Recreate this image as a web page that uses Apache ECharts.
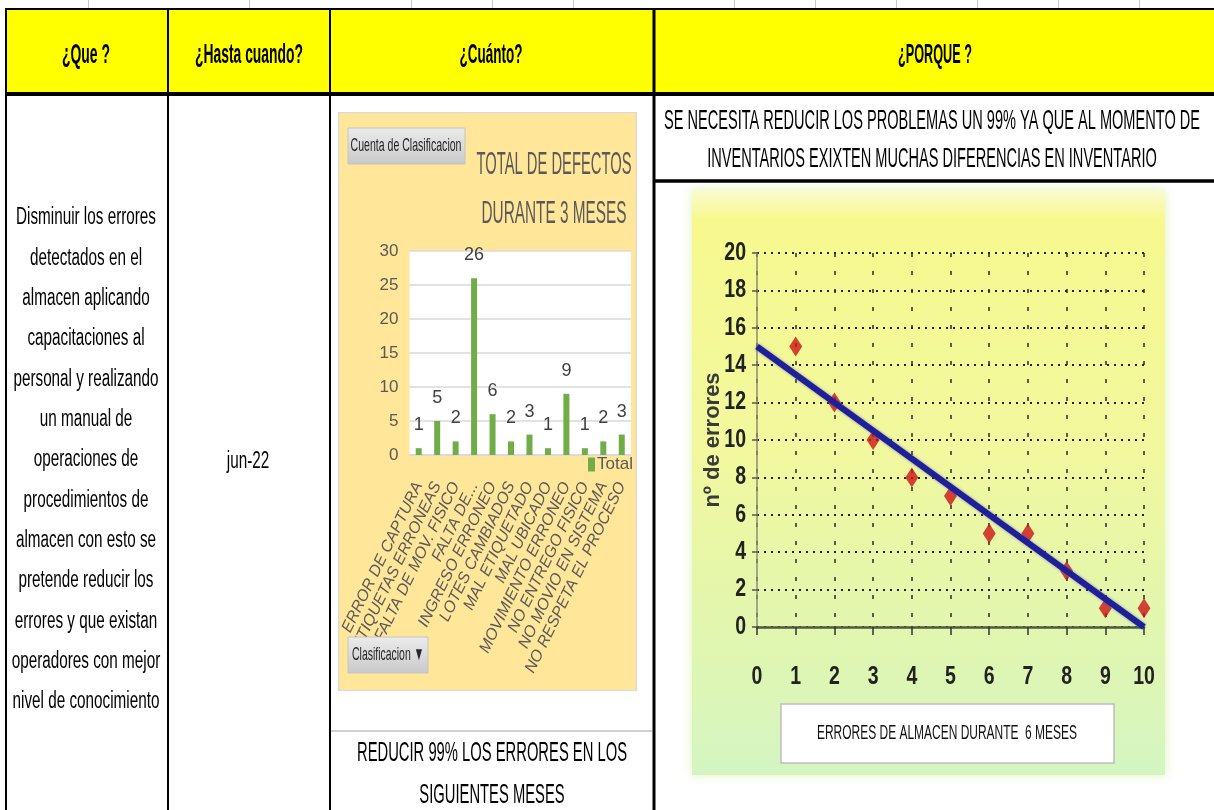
<!DOCTYPE html>
<html>
<head>
<meta charset="utf-8">
<script src="https://cdn.jsdelivr.net/npm/echarts@6/dist/echarts.min.js"></script>
<style>
  html, body { margin: 0; padding: 0; background: #fff; }
  #page { position: absolute; left: 0; top: 0; width: 1214px; height: 810px; }
  #bars { position: absolute; left: 338px; top: 112px; width: 299px; height: 579px; }
</style>
</head>
<body>
<div id="page"></div>
<div id="bars"></div>
<script>
// ---- table content ----
const headerTitles = ['¿Que ?', '¿Hasta cuando?', '¿Cuánto?', '¿PORQUE ?'];
const queLines = [
  'Disminuir los errores', 'detectados en el', 'almacen aplicando', 'capacitaciones al',
  'personal y realizando', 'un manual de', 'operaciones de', 'procedimientos de',
  'almacen con esto se', 'pretende reducir los', 'errores y que existan',
  'operadores con mejor', 'nivel de conocimiento'
];
const hastaText = 'jun-22';
const cuantoLines = ['REDUCIR 99% LOS ERRORES EN LOS', 'SIGUIENTES MESES'];
const porqueLines = [
  'SE NECESITA REDUCIR LOS PROBLEMAS UN 99% YA QUE AL MOMENTO DE',
  'INVENTARIOS EXIXTEN MUCHAS DIFERENCIAS EN INVENTARIO'
];

// ---- defects per classification (bar chart) ----
const defectCategories = [
  'ERROR DE CAPTURA', 'ETIQUETAS ERRONEAS', 'FALTA DE MOV. FISICO', 'FALTA DE...',
  'INGRESO ERRONEO', 'LOTES CAMBIADOS', 'MAL ETIQUETADO', 'MAL UBICADO',
  'MOVIMIENTO ERRONEO', 'NO ENTREGO FISICO', 'NO MOVIO EN SISTEMA', 'NO RESPETA EL PROCESO'
];
const defectCounts = [1, 5, 2, 26, 6, 2, 3, 1, 9, 1, 2, 3];
const defectTitle = ['TOTAL DE DEFECTOS', 'DURANTE 3 MESES'];

// ---- warehouse errors per month (scatter + trend) ----
const monthX = [1, 2, 3, 4, 5, 6, 7, 8, 9, 10];
const errorsY = [15, 12, 10, 8, 7, 5, 5, 3, 1, 1];
const trendX = [0, 10];
const trendY = [15, 0];
const xTicks = [0, 1, 2, 3, 4, 5, 6, 7, 8, 9, 10];
const yTicks = [0, 2, 4, 6, 8, 10, 12, 14, 16, 18, 20];
const errorsCaption = 'ERRORES DE ALMACEN DURANTE  6 MESES';

const SANS = "'Liberation Sans', 'DejaVu Sans', sans-serif";

// text squeezed horizontally (condensed look)
const mctx = document.createElement('canvas').getContext('2d');
function fitText(str, cx, cy, size, width, opt) {
  opt = opt || {};
  const weight = opt.weight || 'normal';
  const family = opt.family || SANS;
  mctx.font = weight + ' ' + size + 'px ' + family;
  const w = mctx.measureText(str).width;
  const sx = opt.scale || (width / w);
  const align = opt.align || 'center';
  return {
    type: 'text', x: cx, y: cy, scaleX: sx, z: opt.z || 20, silent: true,
    style: {
      text: str, x: 0, y: 0,
      align: align, verticalAlign: 'middle',
      textAlign: align, textVerticalAlign: 'middle',
      fontSize: size, fontWeight: weight, fontFamily: family,
      fill: opt.color || '#000'
    }
  };
}
function scaleFor(str, size, width, weight) {
  mctx.font = (weight || 'normal') + ' ' + size + 'px ' + SANS;
  return width / mctx.measureText(str).width;
}
function hLine(x1, x2, y, w, color, z) {
  return { type: 'line', z: z || 30, silent: true, shape: { x1: x1, y1: y, x2: x2, y2: y }, style: { stroke: color || '#000', lineWidth: w } };
}
function vLine(x, y1, y2, w, color, z) {
  return { type: 'line', z: z || 30, silent: true, shape: { x1: x, y1: y1, x2: x, y2: y2 }, style: { stroke: color || '#000', lineWidth: w } };
}

// ================= page: table + errors chart =================
const page = echarts.init(document.getElementById('page'), null, { renderer: 'canvas' });
const g = [];

// faint sheet gridline stubs above the table
[88, 249, 411, 492, 573, 734, 815, 896, 977, 1058, 1139].forEach(function (x) {
  g.push(vLine(x + 0.5, 0, 9, 1, '#c8c8c8', 5));
});
// header band and borders
g.push({ type: 'rect', z: 1, silent: true, shape: { x: 6, y: 9, width: 1208, height: 84 }, style: { fill: '#FFFF00' } });
g.push(hLine(5, 1214, 9, 2));
g.push(hLine(5, 1214, 94, 4));
g.push(vLine(6, 8, 810, 2));
g.push(vLine(168, 8, 810, 2));
g.push(vLine(330, 8, 810, 2));
g.push(vLine(654, 8, 810, 3));
g.push(hLine(653, 1214, 181, 3.5));
g.push(hLine(331, 652, 731, 2, '#d0d0d0'));

const headerCx = [86, 249, 491, 935];
const headerW = [48, 108, 63, 74];
headerTitles.forEach(function (t, i) {
  g.push(fitText(t, headerCx[i], 56, 27, headerW[i], { weight: 'bold' }));
});

const queScale = scaleFor(queLines[0], 23, 140);
queLines.forEach(function (t, i) {
  g.push(fitText(t, 86, 218 + i * 40.33, 23, 0, { scale: queScale }));
});
g.push(fitText(hastaText, 248, 462, 23, 0, { scale: queScale }));

const cuantoScale = scaleFor(cuantoLines[0], 28, 270);
cuantoLines.forEach(function (t, i) {
  g.push(fitText(t, 492, 753 + i * 42, 28, 0, { scale: cuantoScale }));
});
const porqueScale = scaleFor(porqueLines[0], 28, 536);
porqueLines.forEach(function (t, i) {
  g.push(fitText(t, 932, 121 + i * 38, 28, 0, { scale: porqueScale }));
});

// errors chart backdrop
g.push({
  type: 'rect', z: 0, silent: true,
  shape: { x: 692, y: 190, width: 473, height: 585 },
  style: {
    fill: new echarts.graphic.LinearGradient(0, 0, 0, 1, [
      { offset: 0, color: '#FAFAD0' },
      { offset: 0.05, color: '#F7F98E' },
      { offset: 0.45, color: '#F1F89E' },
      { offset: 0.8, color: '#DFF6B2' },
      { offset: 1, color: '#D4F5C2' }
    ]),
    shadowBlur: 10, shadowColor: 'rgba(215,240,170,0.8)'
  }
});
g.push({ type: 'rect', z: 20, silent: true, shape: { x: 781, y: 704, width: 333, height: 59 }, style: { fill: '#fff', stroke: '#bdbdbd', lineWidth: 1.5 } });
g.push(fitText(errorsCaption, 947, 733, 20, 260, { color: '#111' }));

page.setOption({
  backgroundColor: '#fff',
  animation: false,
  graphic: { elements: g },
  grid: { left: 757, top: 253, width: 387, height: 374 },
  xAxis: {
    type: 'value', min: 0, max: 10, interval: 1,
    axisLine: { show: true, onZero: false, lineStyle: { color: '#4f5c3e', width: 2.5 } },
    axisTick: { show: true, length: 8, lineStyle: { color: '#333', width: 1.5 } },
    axisLabel: { show: false },
    splitLine: { show: true, lineStyle: { type: [4, 14], color: '#2a2a2a', width: 1.5 } }
  },
  yAxis: {
    type: 'value', min: 0, max: 20, interval: 2,
    name: 'nº de errores', nameLocation: 'middle', nameRotate: 90, nameGap: 33,
    nameMoveOverlap: false,
    nameTextStyle: { fontSize: 22, fontWeight: 'bold', color: '#3a3a3a', fontFamily: SANS },
    axisLine: { show: true, lineStyle: { color: '#8c8c76', width: 1.5 } },
    axisTick: { show: true, length: 5, lineStyle: { color: '#555', width: 1.5 } },
    axisLabel: { show: false },
    splitLine: { show: true, lineStyle: { type: [2, 5], color: '#222', width: 2 } }
  },
  series: [
    {
      type: 'scatter', name: 'errores',
      data: monthX.map(function (x, i) { return [x, errorsY[i]]; }),
      symbol: 'diamond', symbolSize: [13, 20],
      itemStyle: { color: '#CC1414' }, z: 3
    },
    {
      type: 'line', name: 'tendencia',
      data: trendX.map(function (x, i) { return [x, trendY[i]]; }),
      symbol: 'none',
      lineStyle: { color: '#1F1F96', width: 6, shadowBlur: 3, shadowColor: 'rgba(60,60,220,0.6)' },
      z: 4
    }
  ]
});

// condensed tick labels placed through the axis scales
const tickScale = 0.78;
xTicks.forEach(function (v) {
  const p = page.convertToPixel({ gridIndex: 0 }, [v, 0]);
  g.push(fitText(String(v), p[0], p[1] + 50, 25, 0, { scale: tickScale, color: '#222', weight: 'bold' }));
});
yTicks.forEach(function (v) {
  const p = page.convertToPixel({ gridIndex: 0 }, [0, v]);
  g.push(fitText(String(v), p[0] - 11, p[1], 25, 0, { scale: tickScale, color: '#222', weight: 'bold', align: 'right' }));
});
page.setOption({ graphic: { elements: g } });

// ================= defects bar chart =================
const bars = echarts.init(document.getElementById('bars'), null, { renderer: 'canvas' });
const bg = [];
bg.push({ type: 'rect', z: 0, silent: true, shape: { x: 0.5, y: 0.5, width: 298, height: 578 }, style: { fill: 'none', stroke: '#d9d9d9', lineWidth: 1.5 } });
function button(x, y, w, h) {
  return {
    type: 'rect', z: 10, silent: true, shape: { x: x, y: y, width: w, height: h },
    style: {
      fill: new echarts.graphic.LinearGradient(0, 0, 0, 1, [
        { offset: 0, color: '#ececec' }, { offset: 1, color: '#c9c9c9' }
      ]),
      stroke: '#c4c4c4', lineWidth: 1
    }
  };
}
bg.push(button(10, 16, 117, 36));
bg.push(fitText('Cuenta de Clasificacion', 68, 34, 19, 111, { color: '#262626' }));
bg.push(button(10, 525, 80, 36));
bg.push(fitText('Clasificacion ▼', 50, 543, 19, 72, { color: '#262626' }));
bg.push(fitText(defectTitle[0], 216, 53, 32, 155, { color: '#595959' }));
bg.push(fitText(defectTitle[1], 216, 102, 32, 145, { color: '#595959' }));

bars.setOption({
  backgroundColor: '#FFE699',
  animation: false,
  graphic: { elements: bg },
  legend: {
    data: ['Total'], left: 250, top: 344, padding: 0, icon: 'rect', itemWidth: 7, itemHeight: 14,
    textStyle: { fontSize: 17, color: '#595959', fontFamily: SANS, padding: [0, 0, 0, -3] }
  },
  grid: { left: 65, top: 139, width: 228, height: 204, show: true, backgroundColor: '#ffffff', borderWidth: 0 },
  xAxis: {
    type: 'category', data: defectCategories,
    axisLine: { show: true, lineStyle: { color: '#d9d9d9', width: 1.5 } },
    axisTick: { show: false },
    axisLabel: { interval: 0, rotate: 64, margin: 28, fontSize: 16, fontStyle: 'italic', color: '#595959', fontFamily: SANS }
  },
  yAxis: {
    type: 'value', min: 0, max: 30, interval: 5,
    axisLine: { show: false }, axisTick: { show: false },
    axisLabel: { margin: 11, fontSize: 17, color: '#595959', fontFamily: SANS },
    splitLine: { lineStyle: { color: '#d9d9d9', width: 1.5 } }
  },
  series: [{
    type: 'bar', name: 'Total', data: defectCounts, barWidth: 6,
    itemStyle: { color: '#70AD47' },
    label: { show: true, position: 'top', distance: 14, fontSize: 18, color: '#404040', fontFamily: SANS }
  }]
});
</script>
</body>
</html>
